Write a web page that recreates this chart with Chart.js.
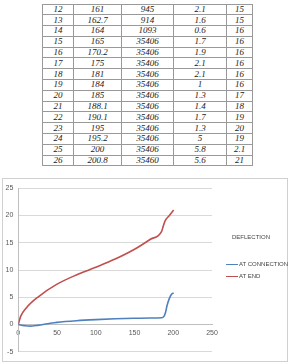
<!DOCTYPE html>
<html>
<head>
<meta charset="utf-8">
<script src="https://cdn.jsdelivr.net/npm/chart.js@4.4.1/dist/chart.umd.min.js"></script>
<style>
  body { margin: 0; background: #fff; width: 290px; height: 364px; position: relative; overflow: hidden; }
  table { position: absolute; left: 42px; top: 3.5px; border-collapse: collapse; font-family: "Liberation Serif", serif; font-style: italic; font-size: 9px; color: #222; }
  td { border: 1px solid #999; height: 9.8px; padding: 0; text-align: center; line-height: 9px; }
  #box { position: absolute; left: 2px; top: 178px; width: 284px; height: 182px; border: 1px solid #d0d0d0; }
  #wrap { position: absolute; left: 0; top: 0; width: 284px; height: 182px; }
  .leg { position: absolute; font-family: "Liberation Sans", sans-serif; font-size: 6px; color: #444; white-space: nowrap; }
  .sw { display: inline-block; width: 12px; height: 1.5px; vertical-align: middle; margin-right: 1px; }
</style>
</head>
<body>
<table id="tbl"></table>
<div id="box">
  <div id="wrap"><canvas id="c"></canvas></div>
  <div class="leg" id="legTitle" style="left:229px; top:55px;">DEFLECTION</div>
  <div id="legItems"></div>
</div>
<script>
// table rows: No., load, col3, at connection, at end
const rowNo = [12, 13, 14, 15, 16, 17, 18, 19, 20, 21, 22, 23, 24, 25, 26];
const rowLoad = ['161', '162.7', '164', '165', '170.2', '175', '181', '184', '185', '188.1', '190.1', '195', '195.2', '200', '200.8'];
const rowC3 = ['945', '914', '1093', '35406', '35406', '35406', '35406', '35406', '35406', '35406', '35406', '35406', '35406', '35406', '35460'];
const rowC4 = ['2.1', '1.6', '0.6', '1.7', '1.9', '2.1', '2.1', '1', '1.3', '1.4', '1.7', '1.3', '5', '5.8', '5.6'];
const rowC5 = ['15', '15', '16', '16', '16', '16', '16', '16', '17', '18', '19', '20', '19', '2.1', '21'];
const colWidths = [30, 47, 51, 52, 25];

// chart series
const connX = [0, 8, 15, 25, 40, 50, 75, 100, 125, 150, 170, 185, 188, 190, 192, 195, 198, 200.5];
const connY = [0, -0.2, -0.3, -0.15, 0.2, 0.4, 0.7, 0.9, 1.05, 1.15, 1.2, 1.25, 1.5, 2.2, 3.5, 4.8, 5.6, 5.8];
const endX = [0, 3, 10, 25, 50, 75, 100, 125, 150, 170, 185, 187, 189.5, 195, 200.5];
const endY = [0, 1.5, 3, 5, 7.4, 9.1, 10.5, 12, 13.8, 15.6, 17.1, 18, 19, 20, 21];
const seriesNames = ['AT CONNECTION', 'AT END'];
const seriesColors = ['#4f81bd', '#c0504d'];
const xTicks = [0, 50, 100, 150, 200, 250];
const yTicks = [-5, 0, 5, 10, 15, 20, 25];

const tbl = document.getElementById('tbl');
rowNo.forEach((n, i) => {
  const tr = document.createElement('tr');
  [n, rowLoad[i], rowC3[i], rowC4[i], rowC5[i]].forEach((v, j) => {
    const td = document.createElement('td');
    td.style.width = colWidths[j] + 'px';
    td.textContent = v;
    tr.appendChild(td);
  });
  tbl.appendChild(tr);
});

const legItems = document.getElementById('legItems');
seriesNames.forEach((name, i) => {
  const d = document.createElement('div');
  d.className = 'leg';
  d.style.left = '223px';
  d.style.top = (82 + i * 12) + 'px';
  d.innerHTML = `<span class="sw" style="background:${seriesColors[i]}"></span>${name}`;
  legItems.appendChild(d);
});

const toPts = (xs, ys) => xs.map((x, i) => ({ x: x, y: ys[i] }));

new Chart(document.getElementById('c'), {
  type: 'line',
  data: {
    datasets: [
      { label: seriesNames[0], data: toPts(connX, connY), borderColor: seriesColors[0], borderWidth: 1.6, pointRadius: 0, cubicInterpolationMode: 'monotone', fill: false },
      { label: seriesNames[1], data: toPts(endX, endY), borderColor: seriesColors[1], borderWidth: 1.6, pointRadius: 0, cubicInterpolationMode: 'monotone', fill: false }
    ]
  },
  options: {
    responsive: true,
    maintainAspectRatio: false,
    animation: false,
    layout: { padding: { top: 7.7, right: 75, bottom: 5.3, left: 0 } },
    plugins: { legend: { display: false }, tooltip: { enabled: false } },
    scales: {
      x: {
        type: 'linear',
        min: 0, max: 250,
        position: { y: 0 },
        afterBuildTicks: s => { s.ticks = xTicks.map(v => ({ value: v })); },
        grid: { display: false, drawTicks: false },
        border: { color: '#bfbfbf' },
        ticks: { padding: 4, color: '#595959', font: { family: 'Liberation Sans', size: 7 } }
      },
      y: {
        min: -5, max: 25,
        afterBuildTicks: s => { s.ticks = yTicks.map(v => ({ value: v })); },
        afterFit: s => { s.width = 15.3; },
        grid: { color: '#d9d9d9', drawTicks: false },
        border: { color: '#bfbfbf' },
        ticks: { padding: 5, color: '#595959', font: { family: 'Liberation Sans', size: 7 } }
      }
    }
  }
});
</script>
</body>
</html>
